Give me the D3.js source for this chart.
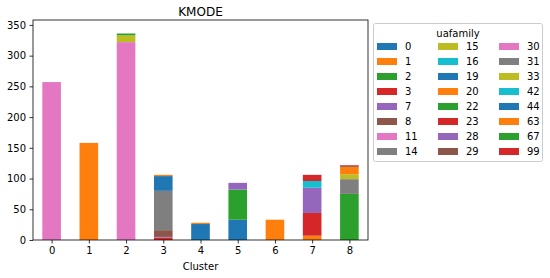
<!DOCTYPE html>
<html>
<head>
<meta charset="utf-8">
<script src="https://d3js.org/d3.v7.min.js"></script>
<style>
  body { margin: 0; background: #fff; }
  svg text { font-family: "DejaVu Sans", sans-serif; fill: #000; }
</style>
</head>
<body>
<div id="chart"></div>
<script>
// cluster labels on x axis
const clusters = ['0', '1', '2', '3', '4', '5', '6', '7', '8'];
// uafamily values, in legend / stacking order
const families = ['0', '1', '2', '3', '7', '8', '11', '14', '15', '16', '19', '20',
                  '22', '23', '28', '29', '30', '31', '33', '42', '44', '63', '67', '99'];
// counts per family, one value per cluster (0..8)
const counts = [
  [0, 0, 0, 0, 0, 33, 0, 0, 0],     // 0
  [0, 158, 0, 0, 0, 0, 0, 7, 0],    // 1
  [0, 0, 0, 0, 0, 49, 0, 0, 75],    // 2
  [0, 0, 0, 4, 0, 0, 0, 37, 0],     // 3
  [0, 0, 0, 1, 0, 0, 0, 41, 0],     // 7
  [0, 0, 0, 11, 0, 0, 0, 0, 0],     // 8
  [257, 0, 0, 0, 0, 0, 0, 0, 0],    // 11
  [0, 0, 0, 64, 0, 0, 0, 0, 24],    // 14
  [0, 0, 0, 0, 0, 0, 0, 0, 8],      // 15
  [0, 0, 0, 0, 0, 0, 0, 11, 0],     // 16
  [0, 0, 0, 24, 0, 0, 0, 0, 0],     // 19
  [0, 0, 0, 2, 0, 0, 0, 0, 12],     // 20
  [0, 0, 0, 0, 0, 0, 0, 0, 0],      // 22
  [0, 0, 0, 0, 0, 0, 0, 10, 0],     // 23
  [0, 0, 0, 0, 0, 11, 0, 0, 0],     // 28
  [0, 0, 0, 0, 0, 0, 0, 0, 2],      // 29
  [0, 0, 322, 0, 0, 0, 0, 0, 0],    // 30
  [0, 0, 0, 0, 0, 0, 0, 0, 0],      // 31
  [0, 0, 11, 0, 0, 0, 0, 0, 0],     // 33
  [0, 0, 0, 0, 0, 0, 0, 0, 0],      // 42
  [0, 0, 0, 0, 26, 0, 0, 0, 0],     // 44
  [0, 0, 0, 0, 2, 0, 33, 0, 0],     // 63
  [0, 0, 3, 0, 0, 0, 0, 0, 0],      // 67
  [0, 0, 0, 0, 0, 0, 0, 0, 1]       // 99
];
const yTicks = [0, 50, 100, 150, 200, 250, 300, 350];

const tab10 = ['#1f77b4', '#ff7f0e', '#2ca02c', '#d62728', '#9467bd',
               '#8c564b', '#e377c2', '#7f7f7f', '#bcbd22', '#17becf'];

const width = 550, height = 278;
const margin = {top: 20, right: 182, bottom: 38, left: 33};
const plotW = width - margin.left - margin.right;
const plotH = height - margin.top - margin.bottom;

var svg = d3.select('#chart').append('svg')
  .attr('width', width)
  .attr('height', height);

// rows = clusters, columns = families
var rows = clusters.map(function(c, i) {
  var r = {cluster: c};
  families.forEach(function(f, j) { r[f] = counts[j][i]; });
  return r;
});

var stacked = d3.stack().keys(families)(rows);

var color = d3.scaleOrdinal()
  .domain(families)
  .range(families.map(function(f, i) { return tab10[i % 10]; }));

// pandas style: categories at integer positions, bars half as wide
var x = d3.scaleLinear().domain([-0.5, clusters.length - 0.5]).range([0, plotW]);
var y = d3.scaleLinear().domain([0, 358]).range([plotH, 0]);
var barW = x(0.5) - x(0);

var g = svg.append('g').attr('transform', 'translate(' + margin.left + ',' + margin.top + ')');

g.selectAll('g.layer')
  .data(stacked)
  .enter().append('g')
    .attr('class', 'layer')
    .attr('fill', function(d) { return color(d.key); })
  .selectAll('rect')
  .data(function(d) { return d; })
  .enter().append('rect')
    .attr('x', function(d, i) { return x(i) - barW / 2; })
    .attr('width', barW)
    .attr('y', function(d) { return y(d[1]); })
    .attr('height', function(d) { return y(d[0]) - y(d[1]); });

// axes
var xAxis = d3.axisBottom(x)
  .tickValues(d3.range(clusters.length))
  .tickFormat(function(i) { return clusters[i]; })
  .tickSize(3.5).tickPadding(3.5);
var yAxis = d3.axisLeft(y)
  .tickValues(yTicks)
  .tickSize(3.5).tickPadding(3.5);

var gx = g.append('g').attr('transform', 'translate(0,' + plotH + ')').call(xAxis);
var gy = g.append('g').call(yAxis);
[gx, gy].forEach(function(a) {
  a.select('.domain').remove();
  a.selectAll('line').attr('stroke', '#000').attr('stroke-width', 0.8);
  a.selectAll('text').attr('font-size', 10).attr('fill', '#000');
});

// frame
g.append('rect')
  .attr('width', plotW).attr('height', plotH)
  .attr('fill', 'none').attr('stroke', '#000').attr('stroke-width', 0.8);

svg.append('text')
  .attr('x', margin.left + plotW / 2).attr('y', 16)
  .attr('text-anchor', 'middle').attr('font-size', 12)
  .text('KMODE');

svg.append('text')
  .attr('x', margin.left + plotW / 2).attr('y', 270)
  .attr('text-anchor', 'middle').attr('font-size', 10)
  .text('Cluster');

// legend
var lg = svg.append('g').attr('transform', 'translate(373.5,23.5)');
lg.append('rect')
  .attr('width', 169).attr('height', 138).attr('rx', 2)
  .attr('fill', '#fff').attr('fill-opacity', 0.8)
  .attr('stroke', '#ccc').attr('stroke-width', 1);
lg.append('text')
  .attr('x', 84.5).attr('y', 13)
  .attr('text-anchor', 'middle').attr('font-size', 10)
  .text('uafamily');

var perCol = 8;
var item = lg.selectAll('g.item')
  .data(families)
  .enter().append('g')
    .attr('class', 'item')
    .attr('transform', function(d, i) {
      return 'translate(' + (3.5 + Math.floor(i / perCol) * 61) + ',' + (23 + (i % perCol) * 15) + ')';
    });
item.append('rect')
  .attr('width', 20).attr('height', 7)
  .attr('y', -3.5)
  .attr('fill', function(d) { return color(d); });
item.append('text')
  .attr('x', 28).attr('y', 3.7)
  .attr('font-size', 10)
  .text(function(d) { return d; });
</script>
</body>
</html>
